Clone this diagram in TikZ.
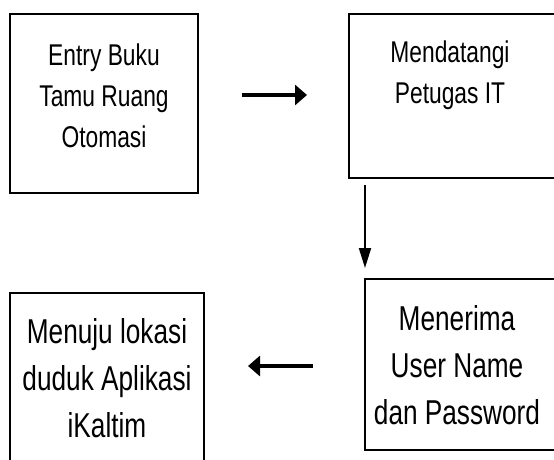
\documentclass[tikz,border=0pt]{standalone}
\usepackage{fontspec}
\setmainfont{Liberation Sans}[FakeStretch=0.76]
\usetikzlibrary{arrows.meta}
\tikzset{
  box/.style={draw=black, line width=1.6pt, inner sep=0pt, outer sep=0pt},
  txtA/.style={anchor=base, align=center, inner sep=0pt, font=\fontsize{30}{41}\selectfont},
  txtB/.style={anchor=base, align=center, inner sep=0pt, font=\fontsize{34.5}{47}\selectfont},
  harrow/.style={line width=3.5pt, -{Triangle[length=12pt,width=20pt]}},
  varrow/.style={line width=2pt, -{Triangle[length=20pt,width=12pt]}}
}
\begin{document}
\begin{tikzpicture}[x=1pt,y=-1pt]
\clip (0,0) rectangle (554,460);
\fill[white] (0,0) rectangle (554,460);
% boxes
\node[box, minimum width=188pt, minimum height=179pt] (b1) at (104,103.5) {};
\node[box, minimum width=211pt, minimum height=164pt] (b2) at (454.5,96) {};
\node[box, minimum width=194pt, minimum height=190pt] (b3) at (107,388) {};
\node[box, minimum width=200pt, minimum height=171pt] (b4) at (465,364.5) {};
% texts (base anchor = baseline of last line)
\node[txtA] (t1) at (104,147) {Entry Buku\\Tamu Ruang\\Otomasi};
\node[txtA] (t2) at (450,103) {Mendatangi\\Petugas IT};
\node[txtB] (t3) at (107,437) {Menuju lokasi\\duduk Aplikasi\\iKaltim};
\node[txtB] (t4) at (457,424) {Menerima\\User Name\\dan Password};
% arrow end points
\coordinate (a1s) at (242,95);
\coordinate (a1e) at (307,95);
\coordinate (a2s) at (365,185);
\coordinate (a2e) at (365,268);
\coordinate (a3s) at (313,366);
\coordinate (a3e) at (248,366);
\draw[harrow] (a1s) -- (a1e);
\draw[varrow] (a2s) -- (a2e);
\draw[harrow] (a3s) -- (a3e);
\end{tikzpicture}
\end{document}
